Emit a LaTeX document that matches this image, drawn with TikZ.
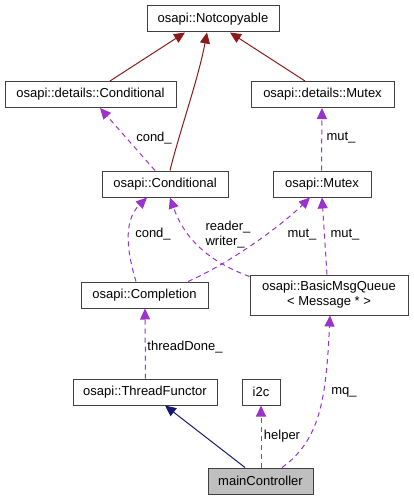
\documentclass[tikz,border=0pt]{standalone}
\usepackage{fontspec}
\setmainfont{Liberation Sans}
\usetikzlibrary{arrows.meta}
\definecolor{inheritred}{HTML}{8B1A1A}
\definecolor{usepurple}{HTML}{9A32CD}
\definecolor{publicblue}{HTML}{191970}
\definecolor{maingray}{HTML}{BFBFBF}
\definecolor{boxline}{HTML}{404040}
\tikzset{
  classbox/.style={draw=boxline, fill=white, line width=1pt, minimum height=26pt,
    inner sep=2pt, align=center, font=\fontsize{13}{15}\selectfont},
  edgelabel/.style={inner sep=0pt, align=left, font=\fontsize{13}{15}\selectfont},
  inheritarrow/.style={-{Triangle[length=11pt,width=10pt]}, draw=inheritred,
    line width=1pt},
  publicarrow/.style={-{Triangle[length=11pt,width=10pt]}, draw=publicblue,
    line width=1pt},
  usearrow/.style={-{Triangle[length=11pt,width=10pt]}, draw=usepurple,
    line width=1pt, dash pattern=on 5pt off 4pt}
}
\begin{document}
\begin{tikzpicture}[x=1pt, y=-1pt]
  \useasboundingbox (0,0) rectangle (413,500);
  \node[classbox, minimum width=132pt] (notcopyable) at (213,19) {osapi::Notcopyable};
  \node[classbox, minimum width=171pt] (detcond) at (90.5,94.5) {osapi::details::Conditional};
  \node[classbox, minimum width=143pt] (detmutex) at (322.5,94.5) {osapi::details::Mutex};
  \node[classbox, minimum width=126pt] (cond) at (165,184) {osapi::Conditional};
  \node[classbox, minimum width=98pt] (mutex) at (322,184) {osapi::Mutex};
  \node[classbox, minimum width=127pt] (completion) at (144.5,295) {osapi::Completion};
  \node[classbox, minimum width=158pt, minimum height=40pt, inner sep=1pt] (msgqueue)
    at (329,295) {osapi::BasicMsgQueue\\< Message * >};
  \node[classbox, minimum width=144pt] (threadfunctor) at (145,392) {osapi::ThreadFunctor};
  \node[classbox, minimum width=38pt] (i2c) at (261,392) {i2c};
  \node[classbox, fill=maingray, minimum width=105pt] (maincontroller)
    at (260.5,481) {mainController};

  \draw[inheritarrow] ([xshift=19.5pt]detcond.north) -- ([xshift=-28pt]notcopyable.south);
  \draw[inheritarrow] ([xshift=5pt]cond.north) .. controls (180,130) and (198,80)
    .. ([xshift=-6pt]notcopyable.south);
  \draw[inheritarrow] ([xshift=-17.5pt]detmutex.north) -- ([xshift=17pt]notcopyable.south);

  \draw[usearrow] ([xshift=-10pt]cond.north) -- ([xshift=9.5pt]detcond.south);
  \draw[usearrow] ([xshift=-0.5pt]mutex.north) -- ([xshift=-0.5pt]detmutex.south);
  \draw[usearrow] ([xshift=-8.5pt]completion.north) .. controls (128,255) and (122,222)
    .. ([xshift=-18pt]cond.south);
  \draw[usearrow] ([yshift=-2pt]msgqueue.north west) .. controls (210,262) and (185,240)
    .. ([xshift=5pt]cond.south);
  \draw[usearrow] ([xshift=43.5pt]completion.north) .. controls (232,262) and (282,225)
    .. ([xshift=-12pt]mutex.south);
  \draw[usearrow] ([xshift=-2pt]msgqueue.north) -- (mutex.south);
  \draw[usearrow] ([xshift=0.5pt]threadfunctor.north) -- ([xshift=0.5pt]completion.south);
  \draw[publicarrow] ([xshift=-15.5pt]maincontroller.north) -- ([xshift=20pt]threadfunctor.south);
  \draw[usearrow] ([xshift=0.5pt]maincontroller.north) -- (i2c.south);
  \draw[usearrow] ([xshift=21.5pt]maincontroller.north) .. controls (320,440) and (326,400)
    .. ([xshift=1pt]msgqueue.south);

  \node[edgelabel] (lcondup) at (154,138) {cond\_};
  \node[edgelabel] (lmutup) at (341,138) {mut\_};
  \node[edgelabel] (lcond) at (153,234) {cond\_};
  \node[edgelabel] (lreadwrite) at (228,235) {reader\_\\writer\_};
  \node[edgelabel] (lmutleft) at (302,235) {mut\_};
  \node[edgelabel] (lmutright) at (345,235) {mut\_};
  \node[edgelabel] (lthread) at (185,347) {threadDone\_};
  \node[edgelabel] (lhelper) at (282,436) {helper};
  \node[edgelabel] (lmq) at (344,392) {mq\_};
\end{tikzpicture}
\end{document}
